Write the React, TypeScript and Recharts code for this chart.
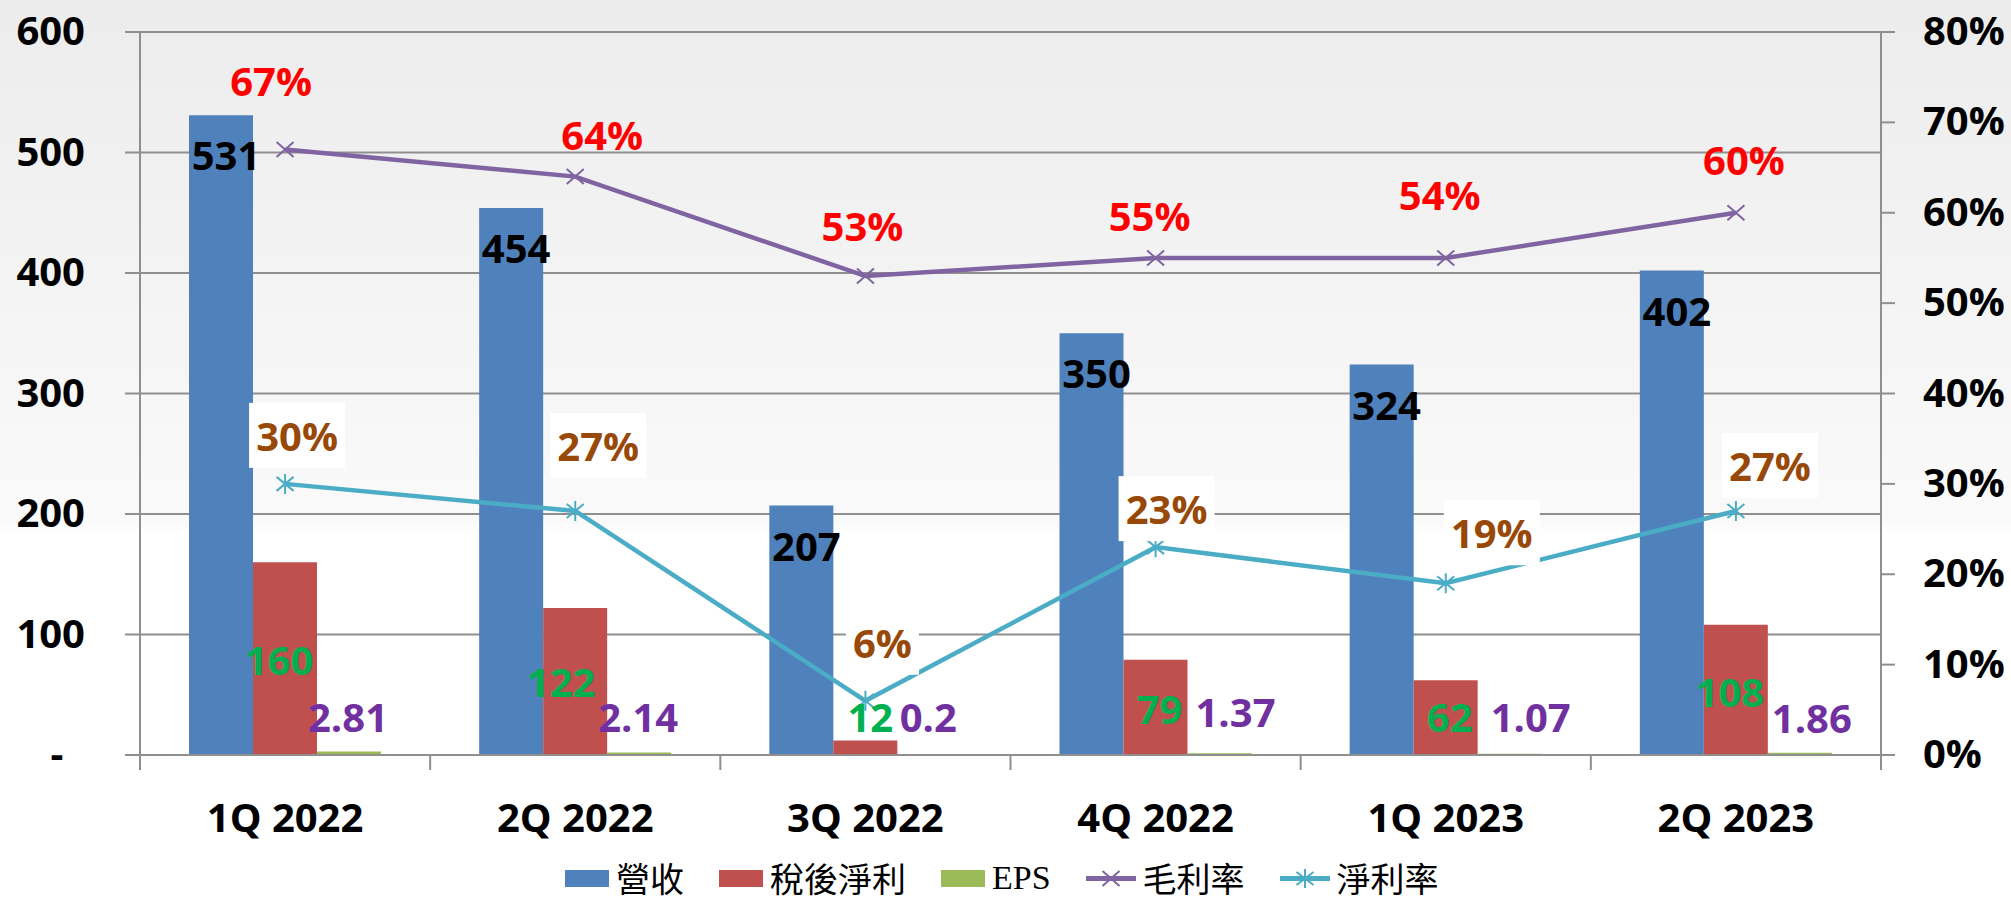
import React from 'react';
import { ComposedChart, Bar, Line, XAxis, YAxis, CartesianGrid, LabelList } from 'recharts';

const quarters = ['1Q 2022', '2Q 2022', '3Q 2022', '4Q 2022', '1Q 2023', '2Q 2023'];
const revenue = [531, 454, 207, 350, 324, 402];
const netIncome = [160, 122, 12, 79, 62, 108];
const eps = [2.81, 2.14, 0.2, 1.37, 1.07, 1.86];
const grossMargin = [67, 64, 53, 55, 55, 60];
const grossMarginText = ['67%', '64%', '53%', '55%', '54%', '60%'];
const netMargin = [30, 27, 6, 23, 19, 27];
const netMarginText = ['30%', '27%', '6%', '23%', '19%', '27%'];

const leftTicks = [0, 100, 200, 300, 400, 500, 600];
const rightTicks = [0, 10, 20, 30, 40, 50, 60, 70, 80];

// hand-placed label nudges from the original slide, [dx, dy] in px
const netIncomeNudge = [[-6, -94], [-14, -72], [5, -37], [4, -45], [4, -37], [-6, -62]];
const epsNudge = [[-1, -37], [-1, -37], [-1, -37], [16, -42], [21, -37], [12, -36]];
const grossNudge = [[-14, -67], [27, -41], [-3, -49], [-6, -41], [-6, -62], [8, -52]];
const netMarginNudge = [[12, -47], [23, -64], [17, -57], [11, -37], [46, -49], [34, -44]];

const W = 2011;
const H = 901;
const PLOT_LEFT = 140;
const PLOT_RIGHT = 1881;
const PLOT_TOP = 32;
const PLOT_BOTTOM = 755;
const BAND = (PLOT_RIGHT - PLOT_LEFT) / quarters.length;

const FONT = "'Open Sans', 'Noto Sans', sans-serif";
const AXIS_GRAY = '#8f8f8f';

const BLUE = '#4F81BD';
const RED = '#C0504D';
const GREEN = '#9BBB59';
const PURPLE = '#8064A2';
const CYAN = '#4BACC6';

const data = quarters.map((q, i) => ({
  quarter: q,
  revenue: revenue[i],
  netIncome: netIncome[i],
  eps: eps[i],
  grossMargin: grossMargin[i],
  netMargin: netMargin[i],
}));

function BoldText({ x, y, fill, anchor = 'middle', children }: any) {
  // y is the vertical centre of the digits
  return (
    <text x={x} y={y + 14} textAnchor={anchor} fontFamily={FONT} fontWeight={700} fontSize={40} fill={fill}>
      {children}
    </text>
  );
}

const revenueLabel = (p: any) => (
  <BoldText key={`r${p.index}`} x={p.x + p.width / 2 + 5} y={p.y + 41} fill="#000">
    {p.value}
  </BoldText>
);

const netIncomeLabel = (p: any) => {
  const [dx, dy] = netIncomeNudge[p.index];
  return (
    <BoldText key={`n${p.index}`} x={p.x + p.width / 2 + dx} y={p.y + p.height + dy} fill="#00B050">
      {p.value}
    </BoldText>
  );
};

const epsLabel = (p: any) => {
  const [dx, dy] = epsNudge[p.index];
  return (
    <BoldText key={`e${p.index}`} x={p.x + p.width / 2 + dx} y={p.y + p.height + dy} fill="#7030A0">
      {p.value}
    </BoldText>
  );
};

const grossLabel = (p: any) => {
  const [dx, dy] = grossNudge[p.index];
  return (
    <BoldText key={`g${p.index}`} x={p.x + dx} y={p.y + dy} fill="#FF0000">
      {grossMarginText[p.index]}
    </BoldText>
  );
};

const netMarginLabel = (p: any) => {
  const [dx, dy] = netMarginNudge[p.index];
  const txt = netMarginText[p.index];
  const digits = txt.length - 1;
  const boxW = digits * 23 + 34 + 16;
  const cx = p.x + dx;
  const cy = p.y + dy;
  return (
    <g key={`m${p.index}`}>
      <rect x={cx - boxW / 2} y={cy - 34} width={boxW} height={65} fill="#fff" />
      <BoldText x={cx} y={cy} fill="#984807">
        {txt}
      </BoldText>
    </g>
  );
};

const crossDot = (p: any) => (
  <path
    key={`x${p.index}`}
    d={`M${p.cx - 8.5},${p.cy - 7.5}L${p.cx + 8.5},${p.cy + 7.5}M${p.cx - 8.5},${p.cy + 7.5}L${p.cx + 8.5},${p.cy - 7.5}`}
    stroke={PURPLE}
    strokeWidth={2}
    fill="none"
  />
);

const starDot = (p: any) => (
  <path
    key={`s${p.index}`}
    d={`M${p.cx - 8.5},${p.cy - 7}L${p.cx + 8.5},${p.cy + 7}M${p.cx - 8.5},${p.cy + 7}L${p.cx + 8.5},${p.cy - 7}M${p.cx},${p.cy - 10}L${p.cx},${p.cy + 10}`}
    stroke={CYAN}
    strokeWidth={2}
    fill="none"
  />
);

const CategoryTick = (p: any) => {
  const half = BAND / 2;
  return (
    <g>
      <line x1={p.x - half} y1={PLOT_BOTTOM} x2={p.x - half} y2={PLOT_BOTTOM + 15} stroke={AXIS_GRAY} strokeWidth={2} />
      {p.index === quarters.length - 1 && (
        <line x1={p.x + half} y1={PLOT_BOTTOM} x2={p.x + half} y2={PLOT_BOTTOM + 15} stroke={AXIS_GRAY} strokeWidth={2} />
      )}
      <text x={p.x} y={PLOT_BOTTOM + 77} textAnchor="middle" fontFamily={FONT} fontWeight={700} fontSize={40} fill="#000">
        {p.payload.value}
      </text>
    </g>
  );
};

const LeftTick = (p: any) =>
  p.payload.value === 0 ? (
    <BoldText x={57} y={p.y - 1} fill="#000">-</BoldText>
  ) : (
    <BoldText x={85} y={p.y - 1} fill="#000" anchor="end">
      {p.payload.value}
    </BoldText>
  );

const RightTick = (p: any) => (
  <BoldText x={1923} y={p.y - 1} fill="#000" anchor="start">
    {`${p.payload.value}%`}
  </BoldText>
);

const legendItems = [
  { name: '營收', color: BLUE, kind: 'box' },
  { name: '稅後淨利', color: RED, kind: 'box' },
  { name: 'EPS', color: GREEN, kind: 'box' },
  { name: '毛利率', color: PURPLE, kind: 'cross' },
  { name: '淨利率', color: CYAN, kind: 'star' },
];

function LegendIcon({ kind, color }: any) {
  if (kind === 'box') {
    return <div style={{ width: 44, height: 17, background: color }} />;
  }
  const marks =
    kind === 'cross'
      ? 'M16.5,2L33.5,17M16.5,17L33.5,2'
      : 'M16.5,3L33.5,16M16.5,16L33.5,3M25,0L25,19';
  return (
    <svg width={50} height={19} style={{ display: 'block' }}>
      <line x1={0} y1={9.5} x2={50} y2={9.5} stroke={color} strokeWidth={5} />
      <path d={marks} stroke={color} strokeWidth={2} fill="none" />
    </svg>
  );
}

export default function App() {
  return (
    <div
      style={{
        position: 'absolute',
        left: 0,
        top: 0,
        width: W,
        height: H,
        overflow: 'hidden',
        background: 'linear-gradient(180deg, #ececec 0px, #f3f3f3 260px, #fafafa 524px, #ffffff 532px)',
      }}
    >
      <ComposedChart width={W} height={H} data={data} margin={{ top: PLOT_TOP, right: 0, bottom: 0, left: 0 }} barGap={0}>
        <CartesianGrid yAxisId="left" vertical={false} stroke={AXIS_GRAY} strokeWidth={2} />
        <XAxis
          dataKey="quarter"
          height={H - PLOT_BOTTOM}
          interval={0}
          tickLine={false}
          axisLine={{ stroke: AXIS_GRAY, strokeWidth: 2 }}
          tick={CategoryTick}
        />
        <YAxis
          yAxisId="left"
          width={PLOT_LEFT}
          domain={[0, 600]}
          ticks={leftTicks}
          interval={0}
          tickSize={15}
          tickLine={{ stroke: AXIS_GRAY, strokeWidth: 2 }}
          axisLine={{ stroke: AXIS_GRAY, strokeWidth: 2 }}
          tick={LeftTick}
        />
        <YAxis
          yAxisId="right"
          orientation="right"
          width={W - PLOT_RIGHT}
          domain={[0, 80]}
          ticks={rightTicks}
          interval={0}
          tickSize={14}
          tickLine={{ stroke: AXIS_GRAY, strokeWidth: 2 }}
          axisLine={{ stroke: AXIS_GRAY, strokeWidth: 2 }}
          tick={RightTick}
        />
        <Bar yAxisId="left" dataKey="revenue" name="營收" fill={BLUE} barSize={64} isAnimationActive={false}>
          <LabelList dataKey="revenue" content={revenueLabel} />
        </Bar>
        <Bar yAxisId="left" dataKey="netIncome" name="稅後淨利" fill={RED} barSize={64} isAnimationActive={false}>
          <LabelList dataKey="netIncome" content={netIncomeLabel} />
        </Bar>
        <Bar yAxisId="left" dataKey="eps" name="EPS" fill={GREEN} barSize={64} isAnimationActive={false}>
          <LabelList dataKey="eps" content={epsLabel} />
        </Bar>
        <Line
          yAxisId="right"
          dataKey="grossMargin"
          name="毛利率"
          stroke={PURPLE}
          strokeWidth={4.5}
          dot={crossDot}
          activeDot={false}
          isAnimationActive={false}
        >
          <LabelList dataKey="grossMargin" content={grossLabel} />
        </Line>
        <Line
          yAxisId="right"
          dataKey="netMargin"
          name="淨利率"
          stroke={CYAN}
          strokeWidth={4.5}
          dot={starDot}
          activeDot={false}
          isAnimationActive={false}
        >
          <LabelList dataKey="netMargin" content={netMarginLabel} />
        </Line>
      </ComposedChart>

      <div style={{ position: 'absolute', left: 565, top: 858, height: 40, display: 'flex', alignItems: 'center' }}>
        {legendItems.map((it) => (
          <div key={it.name} style={{ display: 'flex', alignItems: 'center', marginRight: 35 }}>
            <LegendIcon kind={it.kind} color={it.color} />
            <span
              style={{
                marginLeft: 7,
                fontSize: 34,
                lineHeight: '40px',
                color: '#000',
                fontFamily: it.name === 'EPS' ? "'Liberation Serif', serif" : "'Noto Sans CJK TC', serif",
              }}
            >
              {it.name}
            </span>
          </div>
        ))}
      </div>
    </div>
  );
}
